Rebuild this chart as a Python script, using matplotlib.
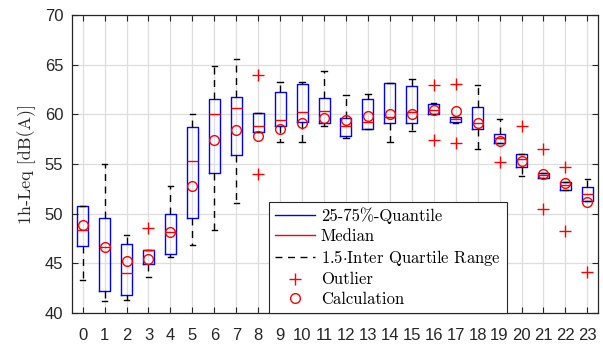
import matplotlib
matplotlib.use("Agg")
import matplotlib.pyplot as plt
from matplotlib.lines import Line2D
from matplotlib.font_manager import FontProperties

plt.rcParams['mathtext.fontset'] = 'cm'

hours = list(range(24))
q1 = [46.76, 42.25, 41.85, 44.97, 45.98, 49.61, 54.08, 55.86, 58.25, 58.86, 59.22, 59.15,
      57.79, 58.55, 59.09, 59.08, 60.05, 59.18, 58.52, 57.07, 54.67, 53.6, 52.36, 51.23]
q3 = [50.75, 49.58, 46.96, 46.32, 49.98, 58.68, 61.54, 61.7, 60.18, 62.25, 63.06, 61.67,
      59.67, 61.5, 63.18, 62.9, 61.08, 59.76, 60.7, 58.06, 56.0, 54.05, 53.14, 52.7]
medians = [48.4, 46.65, 44.0, 46.3, 48.2, 55.32, 59.99, 60.63, 58.85, 59.39, 60.28, 60.36,
           58.8, 59.26, 59.73, 60.19, 60.43, 59.5, 59.12, 57.6, 55.53, 53.9, 52.9, 52.0]
whis_lo = [43.33, 41.25, 41.31, 43.67, 45.61, 46.89, 48.4, 51.12, 58.25, 57.22, 57.22, 58.79,
           57.66, 58.52, 57.26, 58.28, 60.05, 59.09, 56.54, 57.07, 53.82, 53.6, 52.36, 51.23]
whis_hi = [50.8, 54.95, 47.83, 46.32, 52.8, 60.06, 64.9, 65.53, 60.18, 63.28, 63.26, 64.39,
           61.96, 62.04, 63.18, 63.58, 61.18, 59.76, 62.95, 59.5, 56.0, 54.05, 53.14, 53.53]
outliers = [[], [], [], [48.57], [], [], [], [], [63.99, 54.01], [], [], [],
            [], [], [], [], [62.91, 57.4], [63.01, 57.07], [], [55.2], [58.85], [56.5, 50.5],
            [54.68, 48.27], [44.17]]
calculation = [48.84, 46.65, 45.21, 45.48, 48.2, 52.77, 57.44, 58.38, 57.84, 58.48, 59.16, 59.68,
               59.43, 59.86, 60.0, 60.02, 60.43, 60.36, 59.1, 57.3, 55.33, 54.0, 53.05, 51.16]

yticks = [40, 45, 50, 55, 60, 65, 70]

fig = plt.figure(figsize=(6.03, 3.44), dpi=100)
ax = fig.add_axes([0.1189, 0.0901, 0.8733, 0.8663])

stats = []
for i in hours:
    stats.append(dict(med=medians[i], q1=q1[i], q3=q3[i], whislo=whis_lo[i],
                      whishi=whis_hi[i], fliers=outliers[i]))

dash = (0, (5, 4))
ax.bxp(stats, positions=hours, widths=0.5, capwidths=0.25, showfliers=True,
       boxprops=dict(color='blue', lw=1),
       medianprops=dict(color='red', lw=1),
       whiskerprops=dict(color='black', lw=1, linestyle=dash),
       capprops=dict(color='black', lw=1),
       flierprops=dict(marker='+', markeredgecolor='red', markersize=8,
                       markeredgewidth=1, linestyle='none'),
       zorder=3)
ax.plot(hours, calculation, linestyle='none', marker='o', mfc='none', mec='red',
        ms=7, mew=1, zorder=4)

ax.set_xlim(-0.5, 23.5)
ax.set_ylim(40, 70)
ax.set_xticks(hours)
ax.set_xticklabels([str(h) for h in hours])
ax.set_yticks(yticks)
ax.set_yticklabels([str(t) for t in yticks])
ax.grid(True, color='#dedede', lw=0.9, zorder=0)
ax.set_axisbelow(True)
for s in ax.spines.values():
    s.set_color('#262626')
    s.set_linewidth(0.9)
ax.tick_params(direction='in', length=4, width=0.8, color='#262626', top=True, right=True,
               labelcolor='#262626', labelsize=12)
ax.tick_params(axis='x', pad=11)
ax.tick_params(axis='y', pad=6)
for lab in ax.get_xticklabels() + ax.get_yticklabels():
    lab.set_family('Liberation Sans')

ax.set_ylabel('1h-Leq [dB(A)]', family=['cmr10', 'DejaVu Serif'], fontsize=13, color='#262626')
ax.yaxis.set_label_coords(-0.068, 0.5)

handles = [Line2D([], [], color='blue', lw=1),
           Line2D([], [], color='red', lw=1),
           Line2D([], [], color='black', lw=1, linestyle=dash),
           Line2D([], [], color='red', marker='+', linestyle='none', ms=8),
           Line2D([], [], color='red', marker='o', mfc='none', linestyle='none', ms=7)]
labels = ['25-75%-Quantile', 'Median', r'1.5$\cdot$Inter Quartile Range', 'Outlier', 'Calculation']
leg = ax.legend(handles, labels, loc='upper left', bbox_to_anchor=(0.4466, 0.4137),
                bbox_transform=fig.transFigure, borderaxespad=0,
                prop=FontProperties(family=['cmr10', 'DejaVu Serif'], size=12),
                fancybox=False, framealpha=1, edgecolor='#262626', handlelength=2.4,
                handletextpad=0.35, labelspacing=0.25, borderpad=0.35)
leg.get_frame().set_linewidth(0.8)
leg.set_zorder(5)

fig.savefig('out.png', dpi=100)
